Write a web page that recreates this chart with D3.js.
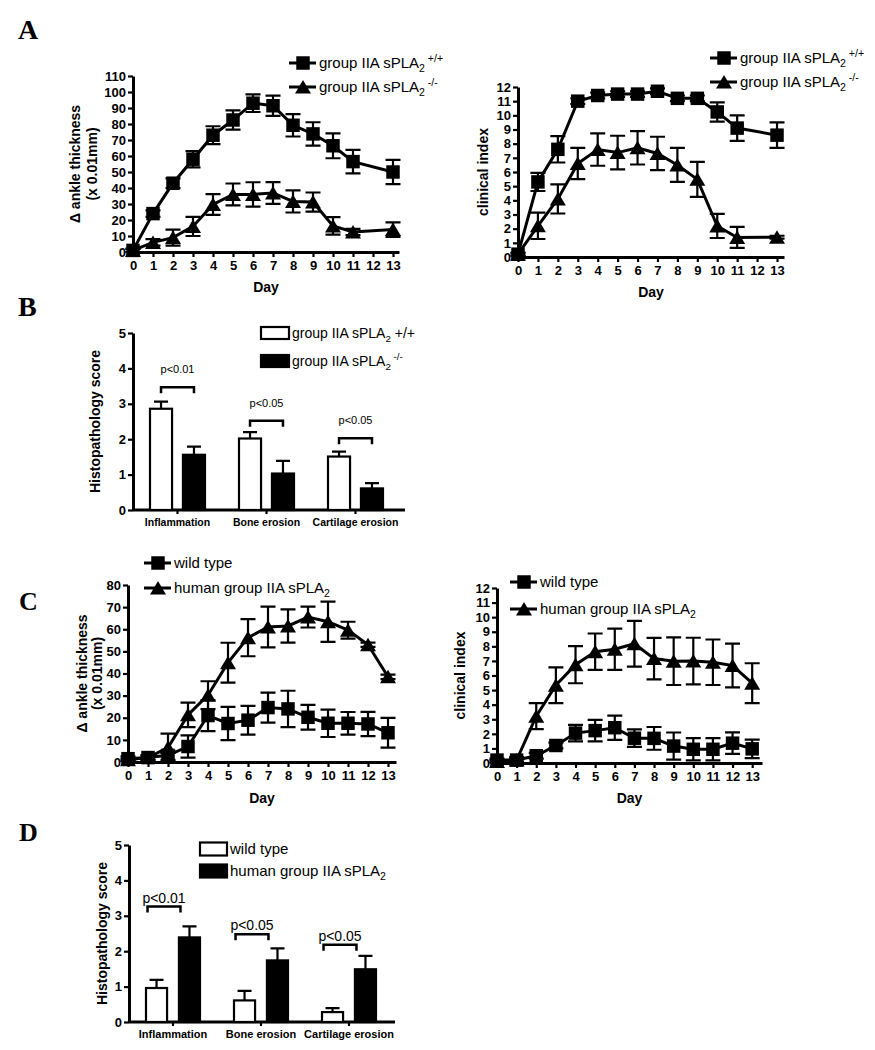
<!DOCTYPE html>
<html>
<head>
<meta charset="utf-8">
<script src="https://cdn.jsdelivr.net/npm/d3@7"></script>
<style>
  body { margin: 0; background: #fff; }
  svg text { font-family: "Liberation Sans", Arial, sans-serif; fill: #000; }
  .panel-letter { font-family: "Liberation Serif", "Times New Roman", serif !important; font-weight: bold; }
</style>
</head>
<body>
<div id="fig"></div>
<script>
// ---- data: panel A (knockout) ----
const daysA = [0, 1, 2, 3, 4, 5, 6, 7, 8, 9, 10, 11, 13];
const ankleKoWt = [1, 24, 43, 58, 73, 82.5, 93, 91.4, 79.2, 73.8, 66.4, 56.5, 50];
const ankleKoWtErr = [1, 2, 3, 5.1, 5.6, 6, 5.5, 6.3, 7, 7.3, 7.8, 7.3, 7.6];
const ankleKo = [1, 6, 9, 16, 29.7, 36, 36, 36.9, 31.6, 31.2, 16.3, 12.5, 14];
const ankleKoErr = [1, 2, 5, 6, 6.5, 6.8, 7.6, 6.8, 6.9, 6, 5.5, 2, 4.5];
const clinKoWt = [0.2, 5.3, 7.6, 11.0, 11.4, 11.5, 11.5, 11.7, 11.2, 11.2, 10.24, 9.1, 8.6];
const clinKoWtErr = [0.1, 0.64, 0.93, 0.2, 0.2, 0.2, 0.2, 0.2, 0.2, 0.2, 0.68, 0.9, 0.9];
const clinKo = [0.2, 2.2, 4.1, 6.6, 7.58, 7.37, 7.71, 7.31, 6.5, 5.48, 2.19, 1.38, 1.4];
const clinKoErr = [0.1, 0.93, 1.03, 1.1, 1.14, 1.19, 1.18, 1.18, 1.2, 1.24, 0.85, 0.74, 0.1];

// ---- data: panel C (transgenic) ----
const daysC = [0, 1, 2, 3, 4, 5, 6, 7, 8, 9, 10, 11, 12, 13];
const ankleTgWt = [1.5, 2, 3, 7, 21, 17.4, 18.9, 24.6, 24, 20.2, 17.5, 17.5, 17.2, 13.2];
const ankleTgWtErr = [1, 1, 2, 5, 7, 7.5, 6.5, 6.8, 8.2, 5.6, 6.2, 5.1, 5.5, 6.7];
const ankleTg = [1, 2, 6.5, 21.3, 30.2, 44.9, 56.2, 61, 61.5, 65.5, 63.4, 59.6, 53, 38.5];
const ankleTgErr = [0.5, 1, 6.3, 5.5, 6.3, 9, 8.4, 9.2, 7.5, 4.7, 9.1, 3.8, 1, 1];
const clinTgWt = [0.2, 0.2, 0.5, 1.2, 2.05, 2.22, 2.42, 1.7, 1.69, 1.16, 0.94, 0.94, 1.36, 0.97];
const clinTgWtErr = [0.1, 0.1, 0.2, 0.2, 0.57, 0.74, 0.83, 0.6, 0.78, 0.93, 0.76, 0.76, 0.74, 0.63];
const clinTg = [0.1, 0.2, 3.21, 5.33, 6.74, 7.63, 7.8, 8.18, 7.16, 6.98, 6.99, 6.91, 6.68, 5.47];
const clinTgErr = [0.1, 0.2, 0.89, 1.23, 1.27, 1.25, 1.42, 1.57, 1.42, 1.63, 1.6, 1.56, 1.5, 1.37];

// ---- data: histopathology (B, D) ----
const histoCats = ['Inflammation', 'Bone erosion', 'Cartilage erosion'];
const histoKoWt = [2.86, 2.02, 1.51];
const histoKoWtErr = [0.2, 0.18, 0.14];
const histoKo = [1.56, 1.03, 0.61];
const histoKoErr = [0.23, 0.36, 0.15];
const histoKoP = ['p<0.01', 'p<0.05', 'p<0.05'];
const histoKoBracket = [3.47, 2.52, 2.03];

const histoTgWt = [0.96, 0.61, 0.28];
const histoTgWtErr = [0.23, 0.27, 0.11];
const histoTg = [2.39, 1.74, 1.49];
const histoTgErr = [0.31, 0.34, 0.38];
const histoTgP = ['p<0.01', 'p<0.05', 'p<0.05'];
const histoTgBracket = [3.26, 2.48, 2.18];

// legend labels: [text, kind]
const lblWt = [['group IIA sPLA', ''], ['2', 'sub'], [' +/+', 'sup']];
const lblKo = [['group IIA sPLA', ''], ['2', 'sub'], [' -/-', 'sup']];
const lblWtBar = [['group IIA sPLA', ''], ['2', 'sub'], [' +/+', '']];
const lblWild = [['wild type', '']];
const lblHuman = [['human group IIA sPLA', ''], ['2', 'sub']];

const svg = d3.select('#fig').append('svg')
    .attr('width', 875)
    .attr('height', 1050);

// bbox-centred triangle like GraphPad's
const symTriangle = {
    draw(ctx) {
        ctx.moveTo(0, -7);
        ctx.lineTo(8, 6.5);
        ctx.lineTo(-8, 6.5);
        ctx.closePath();
    }
};
const markSquare = d3.symbol(d3.symbolSquare, 182)();
const markTriangle = d3.symbol(symTriangle)();

function styleAxis(g, fontSize) {
    g.select('.domain').attr('stroke-width', 3);
    g.selectAll('.tick line').attr('stroke-width', 2.2);
    g.selectAll('.tick text')
        .style('font-size', fontSize + 'px')
        .style('font-weight', 'bold');
}

// text with sub/superscript parts; keep track of the baseline shift
function richText(sel, parts, size) {
    const shift = {'': 0, sub: 4, sup: -6};
    let cur = 0;
    parts.forEach(([t, kind]) => {
        const ts = sel.append('tspan').text(t);
        if (kind) ts.style('font-size', (size * 0.7) + 'px');
        const dy = shift[kind] - cur;
        if (dy) ts.attr('dy', dy);
        cur = shift[kind];
    });
}

function yTitle(g, lines, xs, cy) {
    lines.forEach((t, i) => {
        g.append('text')
            .attr('transform', `translate(${xs[i]},${cy}) rotate(-90)`)
            .attr('text-anchor', 'middle')
            .attr('dy', '0.35em')
            .style('font-size', '14px')
            .style('font-weight', 'bold')
            .text(t);
    });
}

function drawLineChart(cfg) {
    const g = svg.append('g');
    const x = d3.scaleLinear().domain([0, cfg.xMax]).range([cfg.left, cfg.right]);
    const y = d3.scaleLinear().domain([0, cfg.yMax]).range([cfg.bottom, cfg.top]);

    // axes
    g.append('g')
        .attr('transform', `translate(${cfg.left},0)`)
        .call(d3.axisLeft(y)
            .tickValues(d3.range(0, cfg.yMax + 1e-9, cfg.yStep))
            .tickSize(5).tickSizeOuter(0).tickPadding(2))
        .call(a => styleAxis(a, 13));
    g.append('g')
        .attr('transform', `translate(0,${cfg.bottom})`)
        .call(d3.axisBottom(x)
            .tickValues(d3.range(0, 14))
            .tickSize(5).tickSizeOuter(0).tickPadding(3.5))
        .call(a => styleAxis(a, 13));

    g.append('text')
        .attr('x', (cfg.left + cfg.right) / 2)
        .attr('y', cfg.dayY)
        .attr('text-anchor', 'middle')
        .style('font-size', '14px')
        .style('font-weight', 'bold')
        .text('Day');
    yTitle(g, cfg.yLabel, cfg.yLabelX, (cfg.top + cfg.bottom) / 2);

    cfg.series.forEach(s => {
        const pts = cfg.days.map((d, i) => ({day: d, v: s.values[i], e: s.errors[i]}));

        // error bars
        g.append('g')
            .attr('fill', 'none')
            .attr('stroke', '#000')
            .attr('stroke-width', 2.2)
            .selectAll('path')
            .data(pts)
            .join('path')
            .attr('d', p => {
                const xx = x(p.day);
                const ya = y(p.v + p.e);
                const yb = y(Math.max(0, p.v - p.e));
                return `M${xx - 7.5},${ya}H${xx + 7.5}M${xx},${ya}V${yb}M${xx - 7.5},${yb}H${xx + 7.5}`;
            });

        // connecting line
        g.append('path')
            .datum(pts)
            .attr('fill', 'none')
            .attr('stroke', '#000')
            .attr('stroke-width', 3)
            .attr('d', d3.line().x(p => x(p.day)).y(p => y(p.v)));

        // markers
        g.append('g')
            .selectAll('path')
            .data(pts)
            .join('path')
            .attr('transform', p => `translate(${x(p.day)},${y(p.v)})`)
            .attr('d', s.symbol)
            .attr('fill', '#000');
    });

    // legend
    cfg.legend.items.forEach((it, i) => {
        const ly = cfg.legend.y[i];
        const lx = cfg.legend.x;
        g.append('line')
            .attr('x1', lx).attr('x2', lx + 27)
            .attr('y1', ly).attr('y2', ly)
            .attr('stroke', '#000').attr('stroke-width', 3);
        g.append('path')
            .attr('transform', `translate(${lx + 14},${ly})`)
            .attr('d', it.symbol)
            .attr('fill', '#000');
        const t = g.append('text')
            .attr('x', lx + 30)
            .attr('y', ly + 5)
            .style('font-size', cfg.legend.size + 'px');
        richText(t, it.label, cfg.legend.size);
    });
}

function drawBarChart(cfg) {
    const g = svg.append('g');
    const x = d3.scaleBand().domain(histoCats).range([cfg.left, cfg.bandRight]);
    const inner = d3.scaleBand().domain(['a', 'b']).range([-cfg.half, cfg.half]).paddingInner(cfg.innerPad);
    const y = d3.scaleLinear().domain([0, 5]).range([cfg.bottom, cfg.top]);
    const cx = c => x(c) + x.bandwidth() / 2;

    g.append('g')
        .attr('transform', `translate(${cfg.left},0)`)
        .call(d3.axisLeft(y).ticks(5).tickSize(5).tickSizeOuter(0).tickPadding(2))
        .call(a => styleAxis(a, 13));
    g.append('g')
        .attr('transform', `translate(0,${cfg.bottom})`)
        .call(d3.axisBottom(x).tickSize(4).tickSizeOuter(0).tickPadding(4.5))
        .call(a => styleAxis(a, cfg.catSize))
        .call(a => a.select('.domain').attr('d', `M${cfg.left},0H${cfg.axisEnd}`));

    yTitle(g, ['Histopathology score'], [cfg.yLabelX], (cfg.top + cfg.bottom) / 2);

    const groups = [
        {key: 'a', vals: cfg.white, errs: cfg.whiteErr, fill: '#fff'},
        {key: 'b', vals: cfg.black, errs: cfg.blackErr, fill: '#000'}
    ];
    groups.forEach(gr => {
        const rows = histoCats.map((c, i) => ({c, v: gr.vals[i], e: gr.errs[i]}));
        // error bars (upper only)
        g.append('g')
            .attr('fill', 'none').attr('stroke', '#000').attr('stroke-width', 2.2)
            .selectAll('path')
            .data(rows)
            .join('path')
            .attr('d', r => {
                const xx = cx(r.c) + inner(gr.key) + inner.bandwidth() / 2;
                return `M${xx},${y(r.v)}V${y(r.v + r.e)}M${xx - 7},${y(r.v + r.e)}H${xx + 7}`;
            });
        g.append('g')
            .selectAll('rect')
            .data(rows)
            .join('rect')
            .attr('x', r => cx(r.c) + inner(gr.key) + 1)
            .attr('y', r => y(r.v))
            .attr('width', inner.bandwidth() - 2)
            .attr('height', r => y(0) - y(r.v))
            .attr('fill', gr.fill)
            .attr('stroke', '#000')
            .attr('stroke-width', 2.2);
    });

    // significance brackets
    histoCats.forEach((c, i) => {
        const xa = cx(c) + inner('a') + inner.bandwidth() / 2 + cfg.bracketShift;
        const xb = cx(c) + inner('b') + inner.bandwidth() / 2 + cfg.bracketShift;
        const yy = y(cfg.bracket[i]);
        g.append('path')
            .attr('d', `M${xa},${yy + 6}V${yy}H${xb}V${yy + 6}`)
            .attr('fill', 'none').attr('stroke', '#000').attr('stroke-width', 2.5);
        g.append('text')
            .attr('x', (xa + xb) / 2)
            .attr('y', yy - cfg.pGap)
            .attr('text-anchor', 'middle')
            .style('font-size', cfg.pSize + 'px')
            .text(cfg.pLabels[i]);
    });

    // legend
    cfg.legend.items.forEach((it, i) => {
        const ly = cfg.legend.y[i];
        g.append('rect')
            .attr('x', cfg.legend.x).attr('y', ly - cfg.legend.h / 2)
            .attr('width', cfg.legend.w).attr('height', cfg.legend.h)
            .attr('fill', it.fill).attr('stroke', '#000').attr('stroke-width', 2.2);
        const t = g.append('text')
            .attr('x', cfg.legend.x + cfg.legend.w + 3)
            .attr('y', ly + 5)
            .style('font-size', cfg.legend.size + 'px');
        richText(t, it.label, cfg.legend.size);
    });
}

// ---- A ----
drawLineChart({
    days: daysA, xMax: 13.3, left: 133, right: 399, top: 76, bottom: 252,
    yMax: 110, yStep: 10, dayY: 292,
    yLabel: ['\u0394 ankle thickness', '(x 0.01mm)'], yLabelX: [75, 92],
    series: [
        {values: ankleKoWt, errors: ankleKoWtErr, symbol: markSquare},
        {values: ankleKo, errors: ankleKoErr, symbol: markTriangle}
    ],
    legend: {x: 289, y: [63, 87], size: 15, items: [
        {symbol: markSquare, label: lblWt},
        {symbol: markTriangle, label: lblKo}
    ]}
});
drawLineChart({
    days: daysA, xMax: 13.35, left: 518, right: 784, top: 87, bottom: 257,
    yMax: 12, yStep: 1, dayY: 297,
    yLabel: ['clinical index'], yLabelX: [483],
    series: [
        {values: clinKoWt, errors: clinKoWtErr, symbol: markSquare},
        {values: clinKo, errors: clinKoErr, symbol: markTriangle}
    ],
    legend: {x: 710, y: [58, 82], size: 15, items: [
        {symbol: markSquare, label: lblWt},
        {symbol: markTriangle, label: lblKo}
    ]}
});

// ---- B ----
drawBarChart({
    left: 133, bandRight: 400, axisEnd: 405, top: 333, bottom: 510,
    half: 28.5, innerPad: 0.27, catSize: 10.5, yLabelX: 95,
    white: histoKoWt, whiteErr: histoKoWtErr, black: histoKo, blackErr: histoKoErr,
    bracket: histoKoBracket, bracketShift: 0, pLabels: histoKoP, pSize: 11, pGap: 14,
    legend: {x: 261, y: [333, 361], w: 28, h: 12, size: 14, items: [
        {fill: '#fff', label: lblWtBar},
        {fill: '#000', label: lblKo}
    ]}
});

// ---- C ----
drawLineChart({
    days: daysC, xMax: 13.4, left: 128, right: 396, top: 585, bottom: 762,
    yMax: 80, yStep: 10, dayY: 803,
    yLabel: ['\u0394 ankle thickness', '(x 0.01mm)'], yLabelX: [82, 97],
    series: [
        {values: ankleTgWt, errors: ankleTgWtErr, symbol: markSquare},
        {values: ankleTg, errors: ankleTgErr, symbol: markTriangle}
    ],
    legend: {x: 144, y: [563, 588], size: 15, items: [
        {symbol: markSquare, label: lblWild},
        {symbol: markTriangle, label: lblHuman}
    ]}
});
drawLineChart({
    days: daysC, xMax: 13.5, left: 497, right: 762, top: 588, bottom: 763,
    yMax: 12, yStep: 1, dayY: 803,
    yLabel: ['clinical index'], yLabelX: [460],
    series: [
        {values: clinTgWt, errors: clinTgWtErr, symbol: markSquare},
        {values: clinTg, errors: clinTgErr, symbol: markTriangle}
    ],
    legend: {x: 510, y: [582, 609], size: 15, items: [
        {symbol: markSquare, label: lblWild},
        {symbol: markTriangle, label: lblHuman}
    ]}
});

// ---- D ----
drawBarChart({
    left: 129, bandRight: 393, axisEnd: 395, top: 845, bottom: 1022,
    half: 28, innerPad: 0.3, catSize: 11, yLabelX: 102,
    white: histoTgWt, whiteErr: histoTgWtErr, black: histoTg, blackErr: histoTgErr,
    bracket: histoTgBracket, bracketShift: -9, pLabels: histoTgP, pSize: 14, pGap: 4,
    legend: {x: 200, y: [849, 871], w: 27, h: 13, size: 15, items: [
        {fill: '#fff', label: lblWild},
        {fill: '#000', label: lblHuman}
    ]}
});

// panel letters
[['A', 18, 39, 28], ['B', 18, 316, 28], ['C', 19, 610, 26], ['D', 19, 841, 26]].forEach(([t, lx, ly, fs]) => {
    svg.append('text')
        .attr('class', 'panel-letter')
        .attr('x', lx)
        .attr('y', ly)
        .style('font-size', fs + 'px')
        .text(t);
});
</script>
</body>
</html>
